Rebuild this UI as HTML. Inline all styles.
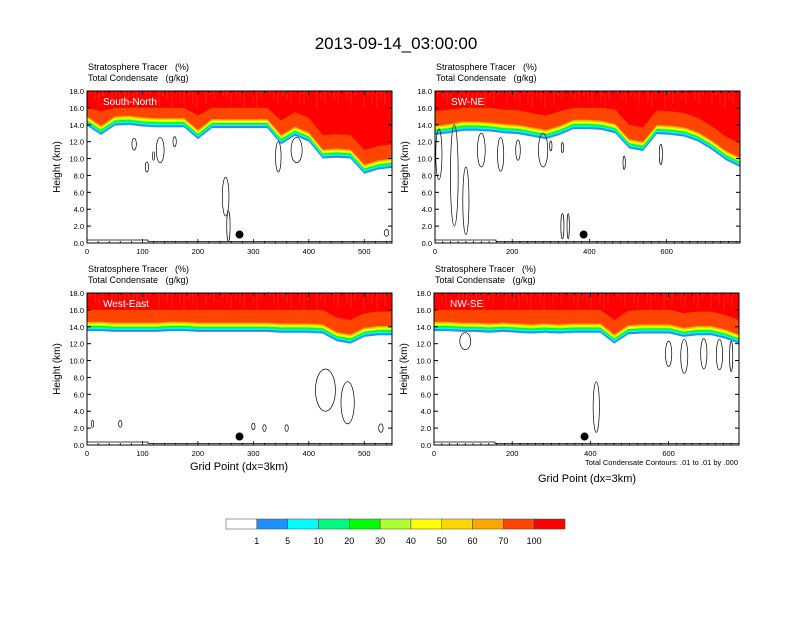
<!DOCTYPE html>
<html><head><meta charset="utf-8"><style>
body{margin:0;background:#fff;}
svg text{font-family:"Liberation Sans",sans-serif;}
</style></head><body>
<svg id="c" width="792" height="612" xmlns="http://www.w3.org/2000/svg">
<rect width="792" height="612" fill="#fff"/>
<text x="396" y="49" font-size="17" text-anchor="middle">2013-09-14_03:00:00</text>
</svg>
<script>
// ---- data ----
const panelNames = ["South-North","SW-NE","West-East","NW-SE"];
const xMax = [550, 790, 550, 780];
const xTickVals = [[0,100,200,300,400,500],[0,200,400,600],[0,100,200,300,400,500],[0,200,400,600]];
const yTickVals = [0,2,4,6,8,10,12,14,16,18];
// tracer base height (km), sampled evenly across x
const baseSN = [13.9,12.8,13.9,14.0,13.8,13.7,13.7,13.7,12.3,13.6,13.6,13.6,13.6,13.6,11.7,12.7,12.0,10.0,10.1,10.0,8.2,8.7,8.9];
const baseSWNE = [12.8,13.0,13.3,13.3,13.2,13.0,12.9,12.6,12.3,12.8,13.5,13.5,13.4,13.0,11.2,10.9,12.9,12.8,12.6,12.0,11.0,9.8,9.0];
const baseWE = [13.5,13.5,13.4,13.4,13.4,13.4,13.5,13.5,13.4,13.4,13.4,13.4,13.4,13.4,13.3,13.3,13.3,13.2,12.3,12.0,12.8,13.0,13.0];
const baseNWSE = [13.5,13.5,13.4,13.4,13.3,13.4,13.3,13.2,13.3,13.2,13.3,13.3,13.3,12.0,13.1,13.2,13.2,13.2,12.8,13.0,13.0,12.6,12.0];
const bases = [baseSN, baseSWNE, baseWE, baseNWSE];
// contour ellipses: [x, heightKm, halfWidthGridPts, halfHeightKm]
const contSN = [[85,11.7,4,0.7],[108,9.0,3,0.6],[120,10.3,2,0.5],[132,11.0,7,1.5],[158,12.0,3,0.6],[250,5.5,6,2.3],[255,2.0,3,1.8],[345,10.2,5,1.8],[378,11.0,10,1.5],[540,1.2,4,0.4]];
const contSWNE = [[10,10.5,8,3],[50,8,10,6],[80,5,8,4],[120,11,10,2],[170,10.5,8,2],[215,11,6,1.2],[280,11,12,2],[300,11.5,3,0.6],[330,11.3,3,0.6],[490,9.5,3,0.8],[585,10.5,4,1.2],[330,2,4,1.5],[345,2,3,1.5]];
const contWE = [[10,2.5,2,0.4],[60,2.5,3,0.4],[300,2.2,3,0.4],[320,2.0,3,0.4],[360,2.0,3,0.4],[430,6.5,18,2.5],[470,5,12,2.5],[530,2,4,0.5]];
const contNWSE = [[80,12.3,14,1.0],[415,4.5,8,3],[600,10.8,8,1.5],[640,10.5,9,2],[690,10.8,8,1.8],[730,10.7,8,1.8],[760,10.5,4,1.8]];
const conts = [contSN, contSWNE, contWE, contNWSE];
const dotX = [275, 385, 275, 385];
const cbLabels = ["1","5","10","20","30","40","50","60","70","100"];
const cbColors = ["#ffffff","#1e90ff","#00ffff","#00fa80","#00ff00","#adff2f","#ffff00","#ffd700","#ffa500","#ff4500","#ff0000"];

// ---- drawing ----
const NS="http://www.w3.org/2000/svg";
const svg=document.getElementById('c');
function el(t,a,p){const e=document.createElementNS(NS,t);for(const k in a)e.setAttribute(k,a[k]);(p||svg).appendChild(e);return e;}
const boxes=[[87,91,392,243],[435,91,740,243],[87,293,392,445],[434,293,739,445]];
const bandW=[0.25,0.12,0.12,0.12,0.12,0.12,0.12,0.12];

boxes.forEach((b,i)=>{
  const [x0,y0,x1,y1]=b;
  const g=el('g',{});
  
  
  const sx=v=>x0+(x1-x0)*v/xMax[i];
  const sy=v=>y1-(y1-y0)*v/18;
  const base=bases[i];
  const n=base.length;
  const xs=base.map((_,k)=>xMax[i]*k/(n-1));
  function area(lowFn,color,nm){
    let d='M'+sx(0)+','+sy(18);
    xs.forEach((x,k)=>{d+='L'+sx(x)+','+sy(18);});
    for(let k=n-1;k>=0;k--) d+='L'+sx(xs[k])+','+sy(lowFn(base[k]));
    d+='Z';
    const p=el('path',{d:d,fill:color},g);
    
    
  }
  const cum=[0];bandW.forEach(w=>cum.push(cum[cum.length-1]+w));
  for(let j=0;j<8;j++){
    const off=cum[j];
    area(v=>v+off,cbColors[1+j],'tracer-band-'+(j+1));
  }
  area(v=>v+cum[8],cbColors[9],'tracer-band-70');
  area(v=>Math.max(Math.min(16.0,v+2.8),v+cum[8]),cbColors[10],'tracer-band-100');
  // streaks
  for(let k=0;k<60;k++){
    const xx=x0+3+((k*47)%(x1-x0-6));
    const l=el('line',{x1:xx,x2:xx,y1:y0,y2:y0+4+(k*13)%14,stroke:'#ff5530','stroke-width':0.6,opacity:0.7},g);
    
    
  }
  conts[i].forEach(c=>{
    const e=el('ellipse',{cx:sx(c[0]),cy:sy(c[1]),rx:Math.max(1,sx(c[2])-x0),ry:(y1-y0)*c[3]/18,fill:'none',stroke:'#000','stroke-width':0.7},g);
    
    
  });
  const t=el('path',{d:`M${x0},${y1-3}L${sx(xMax[i]*0.2)},${y1-3}L${sx(xMax[i]*0.2)},${y1-1.5}L${x1},${y1-1.5}`,fill:'none',stroke:'#000','stroke-width':0.8},g);
  
  
  const dot=el('circle',{cx:sx(dotX[i]),cy:sy(1.0),r:4,fill:'#000'},g);
  
  
  const fr=el('rect',{x:x0,y:y0,width:x1-x0,height:y1-y0,fill:'none',stroke:'#000','stroke-width':1},g);
  
  
  const lb=el('text',{x:x0+16,y:y0+14,'font-size':10,fill:'#fff'},g);lb.textContent=panelNames[i];
  
  
  const t1=el('text',{x:x0+1,y:y0-21,'font-size':9},g);t1.textContent='Stratosphere Tracer\u00a0\u00a0\u00a0(%)';
  
  
  const t2=el('text',{x:x0+1,y:y0-10,'font-size':9},g);t2.textContent='Total Condensate\u00a0\u00a0\u00a0(g/kg)';
  
  
  yTickVals.forEach(v=>{
    const y=sy(v);
    el('line',{x1:x0,x2:x0+4,y1:y,y2:y,stroke:'#000','stroke-width':1},g);
    el('line',{x1:x1,x2:x1-4,y1:y,y2:y,stroke:'#000','stroke-width':1},g);
    const tx=el('text',{x:x0-3,y:y+3,'font-size':7.5,'text-anchor':'end'},g);tx.textContent=v.toFixed(1);
    
    
  });
  for(let v=0;v<=xMax[i];v+=20){const x=sx(v);const big=xTickVals[i].includes(v);
    el('line',{x1:x,x2:x,y1:y1,y2:y1-(big?4:2),stroke:'#000','stroke-width':0.8},g);
    el('line',{x1:x,x2:x,y1:y0,y2:y0+(big?4:2),stroke:'#000','stroke-width':0.8},g);}
  xTickVals[i].forEach(v=>{
    const tx=el('text',{x:sx(v),y:y1+11,'font-size':7.5,'text-anchor':'middle'},g);tx.textContent=v;
    
    
  });
  const yt=el('text',{x:0,y:0,'font-size':10,'text-anchor':'middle',transform:`translate(${x0-27},${(y0+y1)/2}) rotate(-90)`},g);yt.textContent='Height (km)';
  
  
});
let xt=el('text',{x:239,y:470,'font-size':11,'text-anchor':'middle'});xt.textContent='Grid Point (dx=3km)';


xt=el('text',{x:587,y:482,'font-size':11,'text-anchor':'middle'});xt.textContent='Grid Point (dx=3km)';


xt=el('text',{x:738,y:465,'font-size':7.5,'text-anchor':'end'});xt.textContent='Total Condensate Contours: .01 to .01 by .000';


const cbx=226,cbw=(565-226)/11;
cbColors.forEach((c,k)=>{
  const r=el('rect',{x:cbx+k*cbw,y:519,width:cbw,height:10,fill:c,stroke:'#444','stroke-width':0.5});
  
  
});
cbLabels.forEach((s,k)=>{
  const t=el('text',{x:cbx+(k+1)*cbw,y:544,'font-size':9,'text-anchor':'middle'});t.textContent=s;
  
  
});
</script>
</body></html>
